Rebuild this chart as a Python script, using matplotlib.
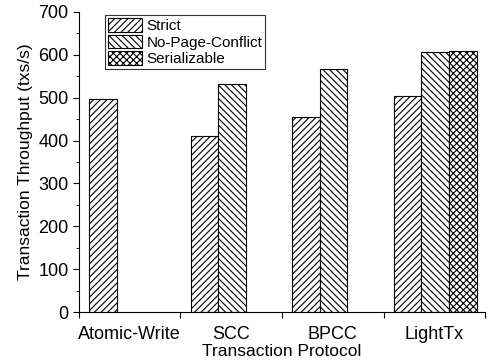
import numpy as np
import matplotlib.pyplot as plt
from matplotlib.ticker import MultipleLocator

plt.rcParams['font.family'] = ['Liberation Sans', 'DejaVu Sans']
plt.rcParams['hatch.linewidth'] = 0.8

protocols = ["Atomic-Write", "SCC", "BPCC", "LightTx"]
strict = [498, 410, 455, 505]
no_page_conflict = [None, 532, 566, 606]
serializable = [None, None, None, 610]

series = [("Strict", strict, "/////"),
          ("No-Page-Conflict", no_page_conflict, "\\\\\\\\\\"),
          ("Serializable", serializable, "xxxxx")]

fig = plt.figure(figsize=(4.93, 3.62), dpi=100)
ax = fig.add_axes([0.160, 0.138, 0.824, 0.829])

w = 0.272
for i, (name, vals, hatch) in enumerate(series):
    xs = [k + 0.1 + w * i for k, v in enumerate(vals) if v is not None]
    ys = [v for v in vals if v is not None]
    ax.bar(xs, ys, width=w, align='edge', color='white', edgecolor='black',
           hatch=hatch, linewidth=0.8, label=name)

ax.set_xlim(0, 4)
ax.set_ylim(0, 700)
ax.set_xticks(range(5))
ax.set_xticklabels([])
ax.set_xticks(np.arange(4) + 0.5, minor=True)
ax.set_xticklabels(protocols, minor=True, fontsize=13)
ax.tick_params(axis='x', which='minor', length=0, pad=10)
ax.tick_params(axis='x', which='major', length=4, direction='out')
ax.yaxis.set_major_locator(MultipleLocator(100))
ax.yaxis.set_minor_locator(MultipleLocator(50))
ax.tick_params(axis='y', which='major', length=4, labelsize=13)
ax.tick_params(axis='y', which='minor', length=2.5)
ax.spines['top'].set_visible(False)
ax.spines['right'].set_visible(False)
ax.set_xlabel("Transaction Protocol", fontsize=12.5, labelpad=1)
ax.set_ylabel("Transaction Throughput (txs/s)", fontsize=12.5)

leg = ax.legend(loc='upper left', bbox_to_anchor=(0.065, 0.99), fontsize=11,
                frameon=True, fancybox=False, edgecolor='black',
                handlelength=2.2, handleheight=1.0, handletextpad=0.3,
                borderpad=0.2, labelspacing=0.1, borderaxespad=0)
leg.get_frame().set_linewidth(0.8)

fig.savefig("out.png", dpi=100)
